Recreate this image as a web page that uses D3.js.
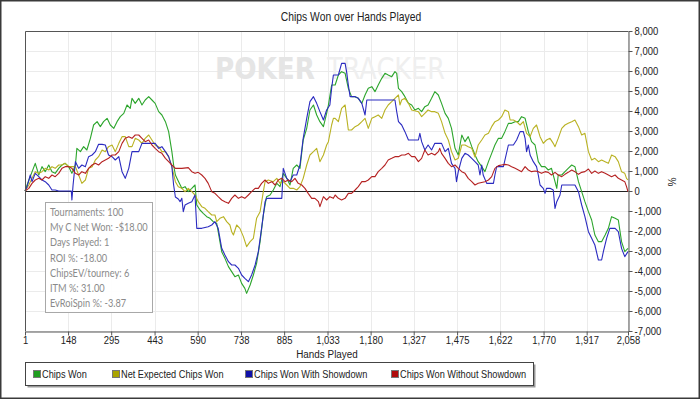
<!DOCTYPE html>
<html>
<head>
<meta charset="utf-8">
<script src="https://cdn.jsdelivr.net/npm/d3@7"></script>
<style>
    body { margin: 0; background: #fff; }
    svg { display: block; }
    text { font-family: "Liberation Sans", Arial, sans-serif; }
    .stats text { font-family: Lato, "Open Sans", sans-serif; }
</style>
</head>
<body>
<script>
(function () {
    // Hands at which each series was read, and the running totals
    var chipsWonHands = [1, 8, 36, 48, 59, 70, 82, 93, 104, 116, 127, 138, 150, 161, 173, 178, 190, 201, 212, 224, 235, 247, 258, 269, 281, 292, 304, 315, 326, 338, 349, 360, 366, 377, 389, 400, 411, 423, 434, 445, 457, 468, 480, 491, 502, 508, 514, 525, 536, 547, 558, 570, 581, 587, 598, 609, 621, 632, 643, 655, 660, 672, 683, 695, 706, 717, 729, 740, 751, 757, 769, 780, 791, 803, 814, 825, 837, 848, 860, 871, 882, 894, 905, 916, 928, 939, 950, 962, 973, 985, 996, 1007, 1019, 1030, 1036, 1047, 1059, 1070, 1081, 1093, 1104, 1115, 1127, 1138, 1150, 1161, 1172, 1184, 1195, 1206, 1218, 1229, 1240, 1252, 1263, 1269, 1275, 1286, 1297, 1309, 1320, 1331, 1343, 1354, 1365, 1376, 1388, 1399, 1411, 1422, 1434, 1445, 1456, 1468, 1479, 1491, 1502, 1513, 1525, 1536, 1547, 1559, 1570, 1582, 1593, 1604, 1616, 1627, 1638, 1650, 1661, 1673, 1684, 1695, 1707, 1718, 1729, 1741, 1752, 1763, 1775, 1786, 1797, 1809, 1815, 1820, 1832, 1843, 1854, 1866, 1877, 1889, 1900, 1911, 1923, 1934, 1945, 1957, 1968, 1980, 1991, 2002, 2014, 2025, 2036, 2047, 2058];
    var chipsWon = [0, 300, 1383, 800, 1217, 967, 1300, 967, 883, 1133, 1300, 1383, 1217, 883, 1300, 2133, 1967, 2217, 2050, 2633, 3300, 3467, 3217, 3467, 3633, 3300, 3133, 3467, 3717, 3883, 4300, 4133, 4633, 4383, 4633, 4300, 4550, 4717, 4550, 4383, 3967, 3800, 3467, 2967, 1967, 1300, 800, 467, 133, 217, -33, 133, 300, -700, -950, -1117, -1283, -1367, -1533, -1617, -2033, -3033, -3367, -3783, -4033, -4283, -4200, -4617, -4867, -5117, -4700, -4200, -3617, -2533, -1200, -283, -200, 50, 383, 217, 883, 633, 300, 1133, 1300, 1133, 2550, 3133, 4050, 4300, 3800, 3467, 3217, 3883, 4300, 5300, 5300, 5800, 5967, 5883, 5133, 4717, 4717, 4633, 4383, 4800, 5133, 5217, 4967, 5300, 5633, 5883, 5800, 5717, 5967, 5883, 5133, 4967, 4717, 4383, 4300, 4050, 4133, 3967, 4217, 4300, 4633, 4967, 4800, 4383, 3883, 3633, 3133, 2133, 1800, 2800, 2467, 2717, 2217, 1800, 1467, 1217, 967, 1467, 1883, 2300, 2633, 2633, 2967, 3383, 3383, 3467, 3467, 3717, 3633, 2967, 2467, 2300, 1467, 1217, 1217, 1050, 1133, 467, 133, 800, 800, 967, 1133, 1300, 1217, 467, -33, -533, -1033, -1450, -2200, -2533, -2533, -2200, -1867, -1283, -1367, -1450, -2533, -3033, -2867];

    var netExpectedHands = [1, 14, 25, 36, 48, 59, 70, 82, 93, 104, 116, 127, 138, 150, 173, 184, 195, 207, 218, 230, 241, 252, 264, 275, 286, 298, 309, 321, 332, 343, 355, 366, 377, 389, 400, 411, 423, 434, 445, 457, 468, 480, 491, 502, 514, 524, 536, 547, 558, 570, 581, 592, 604, 615, 626, 638, 649, 655, 666, 678, 689, 700, 706, 712, 723, 734, 746, 757, 769, 780, 791, 803, 814, 820, 831, 848, 860, 871, 882, 894, 905, 916, 928, 939, 950, 962, 973, 985, 996, 1007, 1019, 1030, 1036, 1047, 1053, 1059, 1070, 1081, 1093, 1098, 1104, 1115, 1127, 1138, 1150, 1161, 1172, 1184, 1195, 1206, 1218, 1229, 1240, 1252, 1263, 1275, 1280, 1286, 1297, 1309, 1320, 1343, 1354, 1365, 1376, 1388, 1399, 1411, 1422, 1434, 1445, 1456, 1468, 1479, 1491, 1502, 1513, 1525, 1536, 1547, 1559, 1570, 1582, 1593, 1604, 1616, 1627, 1638, 1650, 1656, 1667, 1678, 1690, 1701, 1712, 1724, 1735, 1746, 1758, 1769, 1780, 1792, 1803, 1809, 1820, 1832, 1843, 1854, 1866, 1877, 1889, 1900, 1911, 1923, 1934, 1945, 1957, 1968, 1980, 1991, 2002, 2014, 2025, 2036, 2047, 2053, 2058];
    var netExpected = [0, 300, 633, 967, 883, 967, 1133, 1050, 1217, 1133, 1300, 1300, 1383, 1217, 1217, 800, 383, 550, 1133, 1217, 1550, 1717, 2050, 1967, 2217, 2300, 1967, 2383, 2717, 2717, 2217, 2217, 2633, 2550, 2383, 2633, 2800, 2550, 2300, 2217, 1967, 1967, 1717, 1217, 467, 217, 133, -33, 133, -33, -200, -533, -783, -867, -1033, -1200, -1200, -1533, -1367, -1283, -1533, -1700, -2033, -2200, -1700, -1867, -2283, -2783, -2533, -2367, -1367, -1033, -33, 467, 550, 467, 633, 383, 467, 300, 133, 133, 50, 217, 633, 1300, 1800, 1967, 2133, 1467, 1800, 2300, 2467, 3300, 3633, 3633, 3467, 4133, 4300, 3717, 3050, 3050, 3217, 3300, 3467, 3633, 3133, 3633, 3717, 3800, 3633, 4050, 4300, 4467, 4633, 4800, 4300, 4550, 4633, 4383, 4050, 3967, 3717, 3883, 4050, 3967, 3967, 3883, 3467, 2883, 2550, 1967, 1550, 1633, 2300, 2300, 2217, 2133, 1700, 2300, 2550, 2800, 2883, 3217, 3467, 3550, 3717, 4050, 3967, 3550, 3550, 3467, 3300, 3467, 2883, 2717, 3133, 3300, 2717, 2383, 2550, 2633, 2383, 2217, 2633, 3133, 3300, 3383, 3467, 3550, 3217, 2800, 2883, 1967, 1550, 1633, 1467, 1550, 1467, 1383, 1800, 1717, 1467, 967, 883, 633, 550];

    var showdownHands = [1, 8, 19, 25, 36, 48, 59, 70, 82, 93, 104, 116, 150, 159, 161, 165, 173, 184, 195, 207, 218, 230, 241, 252, 264, 275, 286, 298, 309, 321, 332, 343, 355, 366, 389, 400, 445, 457, 468, 480, 491, 502, 508, 514, 524, 530, 536, 541, 547, 558, 570, 581, 587, 604, 626, 638, 649, 660, 672, 683, 695, 706, 717, 729, 740, 751, 763, 774, 786, 797, 808, 820, 825, 877, 882, 894, 905, 916, 928, 939, 950, 962, 973, 985, 996, 1007, 1019, 1030, 1041, 1047, 1053, 1070, 1081, 1093, 1098, 1104, 1110, 1127, 1138, 1150, 1161, 1167, 1263, 1269, 1275, 1286, 1297, 1309, 1343, 1348, 1354, 1365, 1376, 1388, 1399, 1422, 1434, 1445, 1456, 1468, 1473, 1479, 1491, 1502, 1513, 1525, 1536, 1547, 1553, 1559, 1564, 1576, 1599, 1604, 1610, 1633, 1650, 1667, 1678, 1690, 1701, 1707, 1712, 1718, 1724, 1735, 1746, 1752, 1758, 1769, 1775, 1780, 1792, 1803, 1809, 1815, 1826, 1832, 1877, 1889, 1900, 1911, 1923, 1934, 1945, 1957, 1968, 1974, 1985, 1996, 2014, 2025, 2036, 2047, 2058];
    var showdown = [0, 217, 800, 467, 883, 717, 550, 467, 300, 50, 50, 0, 0, 0, -450, 300, 1467, 1133, 1300, 1217, 1717, 1800, 1967, 2333, 2333, 2300, 1800, 1717, 1550, 1717, 967, 633, 1133, 1967, 1967, 2383, 2383, 2133, 2217, 1967, 1717, 1217, 300, -300, -400, -533, -367, -1033, -700, -617, -533, -200, -1867, -1867, -1783, -1700, -1533, -1867, -2867, -3200, -3533, -3700, -3700, -3867, -4200, -4367, -4533, -4200, -3700, -3033, -1867, -533, -367, -367, 1133, 633, 467, 800, 800, 1300, 2633, 3633, 4467, 4717, 4383, 3967, 3550, 4050, 4300, 5133, 5800, 5800, 6383, 6383, 5967, 5300, 4717, 4717, 4633, 4383, 3800, 4550, 4550, 3967, 3467, 3300, 2967, 2550, 2550, 2883, 2467, 2050, 2300, 2050, 2383, 2383, 1967, 2133, 1383, 1133, 467, 967, 1633, 1883, 1800, 1633, 1467, 1300, 800, 1300, 800, 383, 383, 800, 1217, 1217, 2300, 2300, 2550, 2967, 2967, 2633, 1967, 2300, 1800, 1467, 1217, 800, 300, 133, -117, 133, 133, 50, -867, -533, -200, 300, 300, -33, -700, -1283, -2033, -2367, -2700, -3450, -3450, -3033, -2367, -1867, -1867, -2033, -2867, -3283, -3033];

    var noShowdownHands = [1, 14, 25, 36, 48, 59, 70, 82, 93, 104, 116, 127, 138, 150, 161, 173, 184, 195, 207, 218, 230, 241, 252, 264, 275, 286, 298, 309, 321, 332, 343, 355, 366, 377, 389, 400, 411, 423, 434, 445, 457, 468, 480, 491, 502, 514, 525, 536, 558, 570, 581, 592, 604, 615, 626, 638, 649, 660, 672, 683, 695, 706, 717, 729, 740, 751, 763, 774, 786, 797, 808, 820, 831, 843, 854, 865, 877, 888, 899, 911, 922, 933, 945, 956, 967, 979, 990, 1002, 1007, 1019, 1030, 1041, 1053, 1059, 1070, 1081, 1093, 1104, 1115, 1127, 1138, 1150, 1161, 1172, 1184, 1195, 1206, 1218, 1229, 1240, 1252, 1263, 1275, 1286, 1297, 1309, 1320, 1331, 1343, 1354, 1365, 1376, 1388, 1399, 1411, 1416, 1422, 1434, 1445, 1456, 1468, 1479, 1491, 1502, 1513, 1525, 1536, 1547, 1570, 1582, 1593, 1604, 1616, 1627, 1638, 1650, 1661, 1673, 1684, 1695, 1707, 1718, 1729, 1741, 1752, 1763, 1775, 1786, 1797, 1809, 1820, 1832, 1843, 1854, 1866, 1877, 1889, 1900, 1911, 1923, 1934, 1945, 1957, 1968, 1980, 1991, 2002, 2014, 2025, 2036, 2047, 2053, 2058];
    var noShowdown = [0, 133, 383, 550, 633, 550, 717, 633, 800, 717, 883, 1133, 1217, 1217, 1133, 883, 800, 967, 883, 1133, 1300, 1383, 1300, 1467, 1550, 1633, 1800, 1800, 1967, 2383, 2633, 2717, 2633, 2800, 2800, 2633, 2467, 2550, 2300, 2133, 1967, 1883, 1633, 1467, 1300, 1133, 1133, 1133, 1167, 967, 883, 933, 800, 633, 383, -33, -117, -283, -450, -533, -617, -367, -200, -367, -283, -367, -200, -33, 133, 133, 383, 550, 383, 467, 300, 550, 633, 467, 550, 467, 633, 383, 300, 133, -117, -367, -367, -533, -783, -283, -450, -283, -367, -200, -367, -450, -367, -117, -117, 50, 217, 467, 467, 550, 717, 717, 967, 1133, 1300, 1550, 1633, 1717, 1717, 1800, 1800, 1883, 1717, 1717, 1467, 1633, 2050, 1800, 1883, 1800, 1967, 2133, 1883, 1633, 1383, 1217, 1300, 1133, 967, 883, 633, 467, 300, 383, 467, 550, 717, 1133, 1267, 1300, 1333, 1300, 1217, 1133, 1050, 967, 1217, 1050, 967, 1000, 967, 883, 967, 933, 800, 933, 800, 717, 833, 933, 1050, 967, 833, 933, 967, 1100, 883, 1000, 883, 967, 883, 800, 717, 800, 633, 550, 467, 217, -33];

    var seriesNames = ['Chips Won', 'Net Expected Chips Won', 'Chips Won With Showdown', 'Chips Won Without Showdown'];
    var seriesColors = ['#2ca52c', '#b9b223', '#2b2bc0', '#b52222'];
    var legendColors = ['#1f9e1f', '#aaa400', '#1010a8', '#b00c0c'];

    var xTickValues = [1, 148, 295, 443, 590, 738, 885, 1033, 1180, 1327, 1475, 1622, 1770, 1917, 2058];
    var yTickValues = [-7000, -6000, -5000, -4000, -3000, -2000, -1000, 0, 1000, 2000, 3000, 4000, 5000, 6000, 7000, 8000];

    var statLines = ['Tournaments: 100', 'My C Net Won: -$18.00', 'Days Played: 1', 'ROI %: -18.00', 'ChipsEV/tourney: 6', 'ITM %: 31.00', 'EvRoiSpin %: -3.87'];

    // Frame dimensions
    var width = 700,
        height = 399,
        left = 25,
        right = 628,
        top = 31,
        bottom = 331,
        squeeze = 0.86; // horizontal squeeze to mimic the narrow chart font

    var x = d3.scaleLinear().domain([1, 2058]).range([left, right]);
    var y = d3.scaleLinear().domain([-7000, 8000]).range([bottom, top]);

    var fmt = function (d) {
        return d3.format(',')(d).replace('\u2212', '-');
    };

    // Narrow text: place at (px, py) and squeeze horizontally
    function narrowText(parent, px, py, str, size, anchor) {
        return parent.append('g')
            .attr('transform', 'translate(' + px + ',' + py + ') scale(' + squeeze + ',1)')
            .append('text')
            .attr('text-anchor', anchor || 'start')
            .style('font-size', size + 'px')
            .attr('fill', '#222')
            .text(str);
    }

    var svg = d3.select('body')
        .append('svg')
        .attr('width', width)
        .attr('height', height);

    // Outer border
    svg.append('rect')
        .attr('x', 0.75).attr('y', 0.75)
        .attr('width', width - 1.5).attr('height', height - 1.5)
        .attr('fill', '#fff')
        .attr('stroke', '#3a3a3a')
        .attr('stroke-width', 1.5);

    // Title
    narrowText(svg, 351, 21, 'Chips Won over Hands Played', 12, 'middle');

    // Grid lines
    svg.append('g')
        .selectAll('line')
        .data(yTickValues)
        .enter()
        .append('line')
        .attr('x1', left).attr('x2', right)
        .attr('y1', function (d) { return Math.round(y(d)) + 0.5; })
        .attr('y2', function (d) { return Math.round(y(d)) + 0.5; })
        .attr('stroke', '#ebebeb');

    svg.append('g')
        .selectAll('line')
        .data(xTickValues)
        .enter()
        .append('line')
        .attr('y1', top).attr('y2', bottom)
        .attr('x1', function (d) { return Math.round(x(d)) + 0.5; })
        .attr('x2', function (d) { return Math.round(x(d)) + 0.5; })
        .attr('stroke', '#ebebeb');

    // Watermark
    var mark = svg.append('text')
        .attr('x', 215).attr('y', 79)
        .style('font-family', '"DejaVu Sans", sans-serif')
        .style('font-size', '31px');
    mark.append('tspan')
        .attr('fill', '#e5e5e5')
        .attr('font-weight', 'bold')
        .attr('textLength', 100)
        .attr('lengthAdjust', 'spacingAndGlyphs')
        .text('POKER');
    mark.append('tspan')
        .attr('x', 327)
        .attr('fill', '#efefef')
        .attr('textLength', 118)
        .attr('lengthAdjust', 'spacingAndGlyphs')
        .text('TRACKER');

    // Zero line
    svg.append('line')
        .attr('x1', left).attr('x2', right)
        .attr('y1', y(0) + 0.5).attr('y2', y(0) + 0.5)
        .attr('stroke', '#222')
        .attr('stroke-width', 1.2);

    // Series lines
    var sets = [
        [chipsWonHands, chipsWon],
        [netExpectedHands, netExpected],
        [showdownHands, showdown],
        [noShowdownHands, noShowdown]
    ];

    var line = d3.line()
        .x(function (d) { return x(d[0]); })
        .y(function (d) { return y(d[1]); });

    svg.append('g')
        .selectAll('path')
        .data(sets)
        .enter()
        .append('path')
        .attr('d', function (s) {
            return line(d3.zip(s[0], s[1]));
        })
        .attr('fill', 'none')
        .attr('stroke', function (d, i) { return seriesColors[i]; })
        .attr('stroke-width', 1.1)
        .attr('stroke-linejoin', 'round');

    // Frame: top and left edges
    svg.append('path')
        .attr('d', 'M' + (left + 0.5) + ',' + bottom + 'V' + (top + 0.5) + 'H' + right)
        .attr('fill', 'none')
        .attr('stroke', '#555');

    // Axes
    var xAxis = svg.append('g')
        .attr('transform', 'translate(0,' + (bottom + 0.5) + ')')
        .call(d3.axisBottom(x).tickValues(xTickValues).tickFormat(fmt).tickSize(4).tickSizeOuter(0));

    var yAxis = svg.append('g')
        .attr('transform', 'translate(' + (right + 0.5) + ',0)')
        .call(d3.axisRight(y).tickValues(yTickValues).tickFormat(fmt).tickSize(4).tickSizeOuter(0));

    svg.selectAll('.domain').attr('stroke', '#555');
    svg.selectAll('.tick line').attr('stroke', '#555');
    svg.selectAll('.tick text')
        .style('font-family', '"Liberation Sans", Arial, sans-serif')
        .style('font-size', '11px')
        .attr('fill', '#222')
        .attr('transform', 'scale(' + squeeze + ',1)');
    xAxis.selectAll('.tick text').attr('y', 5);
    yAxis.selectAll('.tick text').attr('x', 7);

    // Axis titles
    narrowText(svg, 327, 358, 'Hands Played', 11.5, 'middle');

    svg.append('text')
        .attr('transform', 'translate(668,182) rotate(90)')
        .attr('text-anchor', 'middle')
        .style('font-size', '10px')
        .attr('fill', '#222')
        .text('%');

    // Stats box
    var stats = svg.append('g').attr('class', 'stats');
    stats.append('rect')
        .attr('x', 45.5).attr('y', 202.5)
        .attr('width', 107).attr('height', 110)
        .attr('fill', '#fff')
        .attr('fill-opacity', 0.92)
        .attr('stroke', '#a8a8a8');
    stats.selectAll('g')
        .data(statLines)
        .enter()
        .append('g')
        .attr('transform', function (d, i) {
            return 'translate(50,' + (216 + i * 15.2) + ') scale(0.84,1)';
        })
        .append('text')
        .style('font-size', '11px')
        .attr('fill', '#8a8a8a')
        .text(function (d) { return d; });

    // Legend
    var legend = svg.append('g');
    legend.append('rect')
        .attr('x', 27.5).attr('y', 364.5)
        .attr('width', 508).attr('height', 23)
        .attr('fill', '#9a9a9a');
    legend.append('rect')
        .attr('x', 25.5).attr('y', 362.5)
        .attr('width', 508).attr('height', 23)
        .attr('fill', '#fff')
        .attr('stroke', '#444');

    var legendX = [33, 112, 245, 391];
    var items = legend.selectAll('.item')
        .data(seriesNames)
        .enter()
        .append('g')
        .attr('transform', function (d, i) { return 'translate(' + legendX[i] + ',374)'; });
    items.append('rect')
        .attr('x', 0.5).attr('y', -3.5)
        .attr('width', 7).attr('height', 7)
        .attr('fill', function (d, i) { return legendColors[i]; })
        .attr('stroke', '#777');
    items.each(function (d) {
        narrowText(d3.select(this), 9, 4, d, 10.7);
    });
})();
</script>
</body>
</html>
